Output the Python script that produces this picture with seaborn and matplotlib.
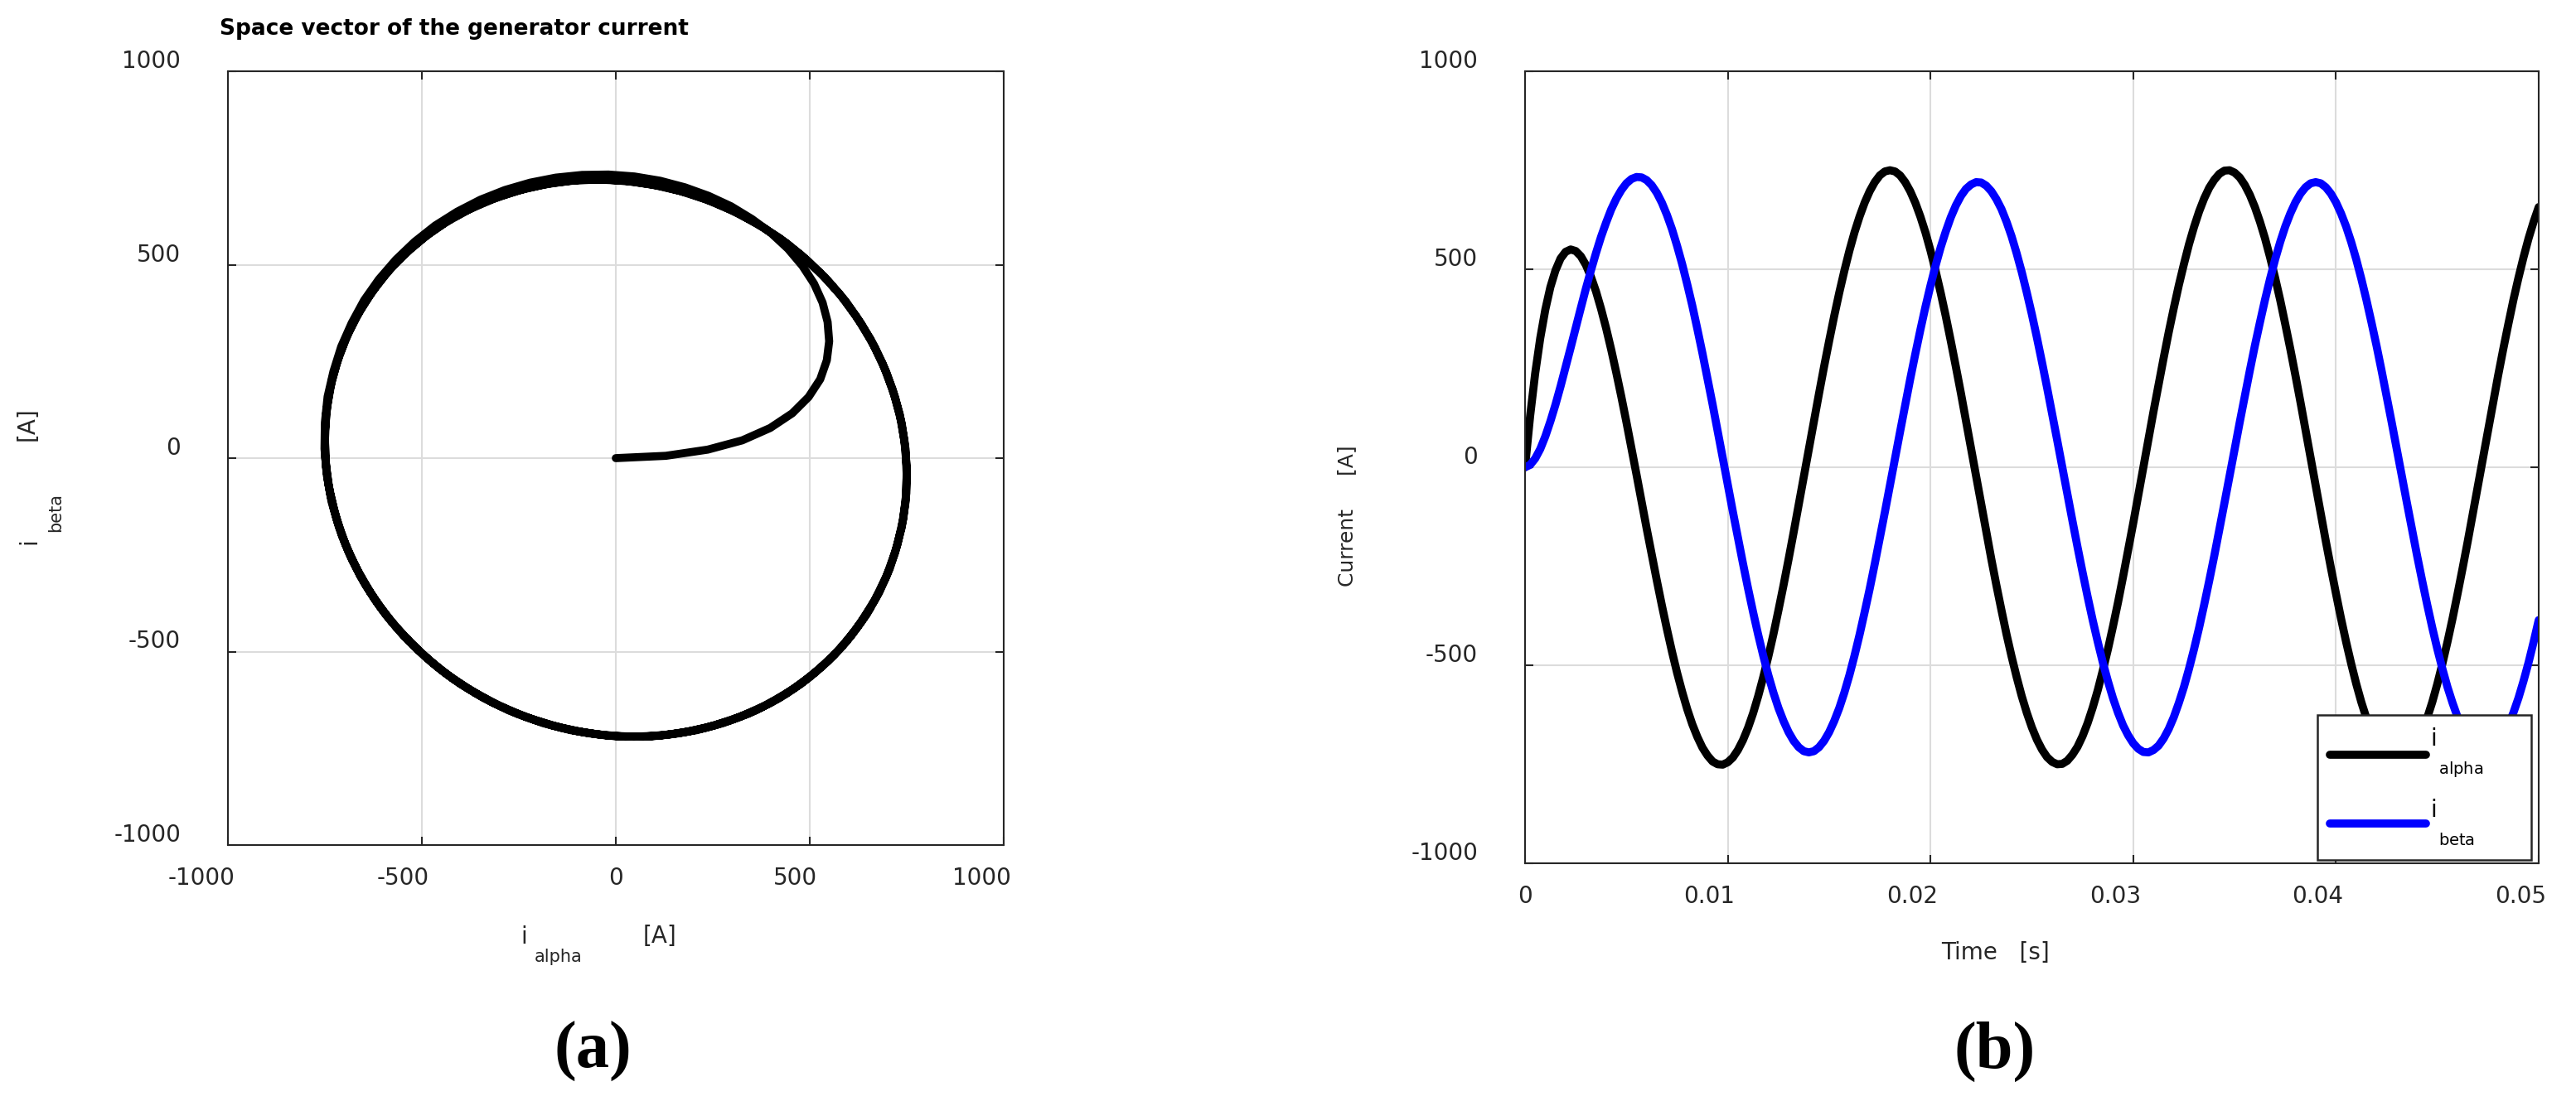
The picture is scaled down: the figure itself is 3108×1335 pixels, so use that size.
import matplotlib
matplotlib.use("Agg")
import matplotlib.pyplot as plt
from matplotlib.transforms import ScaledTranslation
import pandas as pd
import seaborn as sns

# ---------------- data ----------------
time_s = [0.00000, 0.00025, 0.00050, 0.00075, 0.00100, 0.00125, 0.00150, 0.00175, 0.00200, 0.00225,
          0.00250, 0.00275, 0.00300, 0.00325, 0.00350, 0.00375, 0.00400, 0.00425, 0.00450, 0.00475,
          0.00500, 0.00525, 0.00550, 0.00575, 0.00600, 0.00625, 0.00650, 0.00675, 0.00700, 0.00725,
          0.00750, 0.00775, 0.00800, 0.00825, 0.00850, 0.00875, 0.00900, 0.00925, 0.00950, 0.00975,
          0.01000, 0.01025, 0.01050, 0.01075, 0.01100, 0.01125, 0.01150, 0.01175, 0.01200, 0.01225,
          0.01250, 0.01275, 0.01300, 0.01325, 0.01350, 0.01375, 0.01400, 0.01425, 0.01450, 0.01475,
          0.01500, 0.01525, 0.01550, 0.01575, 0.01600, 0.01625, 0.01650, 0.01675, 0.01700, 0.01725,
          0.01750, 0.01775, 0.01800, 0.01825, 0.01850, 0.01875, 0.01900, 0.01925, 0.01950, 0.01975,
          0.02000, 0.02025, 0.02050, 0.02075, 0.02100, 0.02125, 0.02150, 0.02175, 0.02200, 0.02225,
          0.02250, 0.02275, 0.02300, 0.02325, 0.02350, 0.02375, 0.02400, 0.02425, 0.02450, 0.02475,
          0.02500, 0.02525, 0.02550, 0.02575, 0.02600, 0.02625, 0.02650, 0.02675, 0.02700, 0.02725,
          0.02750, 0.02775, 0.02800, 0.02825, 0.02850, 0.02875, 0.02900, 0.02925, 0.02950, 0.02975,
          0.03000, 0.03025, 0.03050, 0.03075, 0.03100, 0.03125, 0.03150, 0.03175, 0.03200, 0.03225,
          0.03250, 0.03275, 0.03300, 0.03325, 0.03350, 0.03375, 0.03400, 0.03425, 0.03450, 0.03475,
          0.03500, 0.03525, 0.03550, 0.03575, 0.03600, 0.03625, 0.03650, 0.03675, 0.03700, 0.03725,
          0.03750, 0.03775, 0.03800, 0.03825, 0.03850, 0.03875, 0.03900, 0.03925, 0.03950, 0.03975,
          0.04000, 0.04025, 0.04050, 0.04075, 0.04100, 0.04125, 0.04150, 0.04175, 0.04200, 0.04225,
          0.04250, 0.04275, 0.04300, 0.04325, 0.04350, 0.04375, 0.04400, 0.04425, 0.04450, 0.04475,
          0.04500, 0.04525, 0.04550, 0.04575, 0.04600, 0.04625, 0.04650, 0.04675, 0.04700, 0.04725,
          0.04750, 0.04775, 0.04800, 0.04825, 0.04850, 0.04875, 0.04900, 0.04925, 0.04950, 0.04975,
          0.05000]

i_alpha = [0, 129, 237, 326, 398, 455, 497, 527, 544, 550,
           546, 533, 511, 481, 444, 400, 351, 297, 239, 178,
           114, 48, -19, -87, -155, -221, -286, -349, -409, -466,
           -519, -567, -611, -649, -681, -708, -728, -743, -750, -751,
           -745, -733, -714, -689, -658, -621, -578, -530, -478, -422,
           -361, -298, -232, -164, -94, -24, 47, 117, 186, 254,
           319, 382, 441, 496, 547, 593, 633, 668, 697, 720,
           737, 747, 750, 747, 737, 720, 697, 668, 633, 593,
           547, 496, 441, 382, 319, 254, 187, 117, 47, -24,
           -94, -164, -232, -298, -361, -422, -478, -530, -578, -620,
           -657, -688, -713, -732, -744, -750, -749, -741, -726, -706,
           -679, -646, -607, -563, -513, -460, -402, -341, -276, -209,
           -141, -71, 0, 71, 141, 209, 276, 341, 402, 460,
           513, 563, 607, 646, 679, 706, 726, 741, 749, 750,
           744, 732, 713, 688, 657, 620, 578, 530, 478, 422,
           361, 298, 232, 164, 94, 24, -47, -117, -187, -254,
           -319, -382, -441, -496, -547, -593, -633, -668, -697, -720,
           -737, -747, -750, -747, -737, -720, -697, -668, -633, -593,
           -547, -496, -441, -382, -319, -254, -187, -117, -47, 24,
           94, 164, 232, 298, 361, 422, 478, 530, 578, 620,
           657]

i_beta = [0, 6, 22, 46, 78, 116, 158, 204, 253, 302,
          352, 402, 451, 497, 541, 582, 618, 651, 678, 700,
          717, 728, 733, 732, 725, 712, 693, 668, 637, 601,
          559, 513, 462, 408, 349, 288, 224, 159, 92, 24,
          -44, -112, -178, -243, -306, -366, -423, -476, -525, -569,
          -608, -641, -669, -691, -707, -717, -720, -717, -707, -691,
          -669, -641, -608, -569, -525, -476, -423, -366, -307, -244,
          -179, -113, -45, 23, 90, 157, 223, 286, 347, 405,
          459, 509, 555, 595, 631, 661, 685, 703, 714, 720,
          719, 711, 697, 677, 652, 620, 583, 540, 493, 441,
          386, 327, 265, 201, 135, 68, 0, -68, -135, -201,
          -265, -327, -386, -441, -493, -540, -583, -620, -652, -677,
          -697, -711, -719, -720, -714, -703, -685, -661, -631, -595,
          -555, -509, -459, -405, -347, -286, -223, -157, -90, -23,
          45, 113, 179, 244, 307, 366, 423, 476, 525, 569,
          608, 641, 669, 691, 707, 717, 720, 717, 707, 691,
          669, 641, 608, 569, 525, 476, 423, 366, 307, 244,
          179, 113, 45, -23, -90, -157, -223, -286, -347, -405,
          -459, -509, -555, -595, -631, -661, -685, -703, -714, -720,
          -719, -711, -697, -677, -652, -620, -583, -540, -493, -441,
          -386]

current_ticks = [-1000, -500, 0, 500, 1000]
current_ticklabels = ["-1000", "-500", "0", "500", "1000"]
time_ticks = [0, 0.01, 0.02, 0.03, 0.04, 0.05]
time_ticklabels = ["0", "0.01", "0.02", "0.03", "0.04", "0.05"]

title_a = "Space vector of the generator current"
legend_base = "i"
legend_subs = ["alpha", "beta"]
series_colors = ["#000000", "#0000ff"]
panel_tags = ["(a)", "(b)"]

# ---------------- style ----------------
sns.set_style("white")
plt.rcParams.update({
    "font.family": ["DejaVu Sans"],
    "axes.unicode_minus": False,
    "figure.facecolor": "white",
    "axes.facecolor": "white",
})

DPI = 200
W, H = 3108, 1335
SPINE = "#262626"
GRID = "#dcdcdc"
LW = 3.5

fig = plt.figure(figsize=(W / DPI, H / DPI), dpi=DPI)


def box(l, t, r, b):
    return [l / W, 1 - b / H, (r - l) / W, (b - t) / H]


axA = fig.add_axes(box(275, 86, 1211, 1020))
axB = fig.add_axes(box(1840, 86, 3063, 1042))

df = pd.DataFrame({"t": time_s, "alpha": i_alpha, "beta": i_beta})

sns.lineplot(data=df, x="alpha", y="beta", sort=False, estimator=None,
             color="black", linewidth=LW, ax=axA)
sns.lineplot(data=df, x="t", y="alpha", sort=False, estimator=None,
             color=series_colors[0], linewidth=LW, ax=axB)
sns.lineplot(data=df, x="t", y="beta", sort=False, estimator=None,
             color=series_colors[1], linewidth=LW, ax=axB)


def style(ax, xt, xtl, yt, ytl, xlim, ylim):
    ax.set_xlim(xlim)
    ax.set_ylim(ylim)
    ax.set_xticks(xt)
    ax.set_xticklabels(xtl)
    ax.set_yticks(yt)
    ax.set_yticklabels(ytl)
    ax.set_xlabel("")
    ax.set_ylabel("")
    ax.grid(True, color=GRID, linewidth=0.75)
    ax.set_axisbelow(True)
    for s in ax.spines.values():
        s.set_visible(True)
        s.set_color(SPINE)
        s.set_linewidth(0.75)
    ax.tick_params(direction="in", length=3.6, width=0.75, color=SPINE,
                   labelcolor=SPINE, labelsize=10,
                   bottom=True, top=True, left=True, right=True)
    ax.tick_params(axis="x", pad=14.4)
    ax.tick_params(axis="y", pad=20.5)
    off_x = ScaledTranslation(9 / DPI, 0, fig.dpi_scale_trans)
    for lab in ax.get_xticklabels():
        lab.set_ha("right")
        lab.set_va("center")
        lab.set_transform(lab.get_transform() + off_x)
    off_y = ScaledTranslation(0, 12 / DPI, fig.dpi_scale_trans)
    for lab in ax.get_yticklabels():
        lab.set_va("center")
        lab.set_transform(lab.get_transform() + off_y)


style(axA, current_ticks, current_ticklabels, current_ticks, current_ticklabels,
      (-1000, 1000), (-1000, 1000))
style(axB, time_ticks, time_ticklabels, current_ticks, current_ticklabels,
      (0, 0.05), (-1000, 1000))

# ---------------- titles and labels ----------------
axA.set_title(title_a, loc="left", fontsize=9.5, fontweight="bold", pad=0,
              x=(265 - 275) / 936, y=(1020 - 42) / 934, va="baseline", color="black")

# left panel: i_alpha [A] and i_beta [A]
axA.set_xlabel("i", fontsize=10, color=SPINE)
axA.xaxis.set_label_coords((632 - 275) / 936, (1020 - 1139) / 934)
axA.xaxis.label.set_va("baseline")
fig.text(674 / W, 1 - 1161 / H, "alpha", fontsize=7.5, color=SPINE, ha="center", va="baseline")
fig.text(796 / W, 1 - 1138 / H, "[A]", fontsize=10, color=SPINE, ha="center", va="baseline")

axA.set_ylabel("i", fontsize=10, color=SPINE)
axA.yaxis.set_label_coords((43 - 275) / 936, (1020 - 653) / 934)
axA.yaxis.label.set_va("baseline")
fig.text(73 / W, 1 - 618 / H, "beta", fontsize=7.5, color=SPINE, rotation=90,
         rotation_mode="anchor", ha="center", va="baseline")
fig.text(41 / W, 1 - 512 / H, "[A]", fontsize=10, color=SPINE, rotation=90,
         rotation_mode="anchor", ha="center", va="baseline")

# right panel
axB.set_xlabel("Time   [s]", fontsize=10, color=SPINE)
axB.xaxis.set_label_coords((2407 - 1840) / 1223, (1042 - 1158) / 956)
axB.xaxis.label.set_va("baseline")
axB.set_ylabel("Current     [A]", fontsize=9, color=SPINE)
axB.yaxis.set_label_coords((1632 - 1840) / 1223, (1042 - 623) / 956)
axB.yaxis.label.set_va("baseline")

# legend: "i" with its subscript on a lower line, as in the reference
handles = axB.lines[:2]
labels = [legend_base + " " * 11 + "\n " + r"$_{\mathregular{" + s + r"}}$"
          for s in legend_subs]
leg = axB.legend(handles=handles, labels=labels, loc="lower right",
                 bbox_to_anchor=(0.9926, 0.0042), borderaxespad=0,
                 frameon=True, fancybox=False, shadow=False, framealpha=1,
                 edgecolor=SPINE, fontsize=10, handlelength=4.17,
                 handletextpad=0.23, labelspacing=0.8, borderpad=0.55)
leg.get_frame().set_linewidth(0.9)
for txt in leg.get_texts():
    txt.set_linespacing(1.1)
    txt.set_color("black")

# panel tags
fig.text(715 / W, 1 - 1289 / H, panel_tags[0], family="Liberation Serif",
         fontweight="bold", fontsize=29, ha="center", va="baseline", color="black")
fig.text(2407 / W, 1 - 1289 / H, panel_tags[1], family="Liberation Serif",
         fontweight="bold", fontsize=29, ha="center", va="baseline", color="black")

fig.savefig("out.png", dpi=DPI, facecolor="white")
